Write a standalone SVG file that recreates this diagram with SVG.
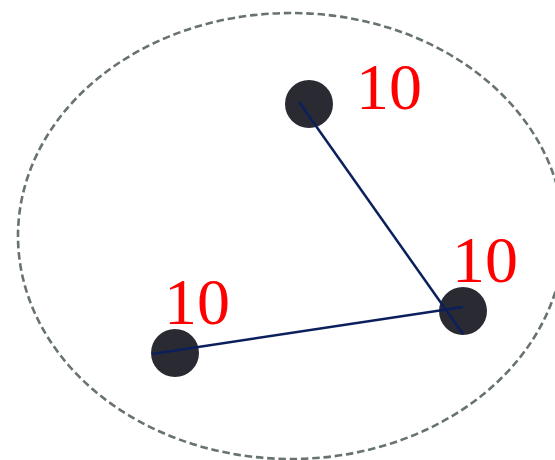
<svg xmlns="http://www.w3.org/2000/svg" width="555" height="460" viewBox="0 0 555 460">
<style>
.node{fill:#2a2a33}
.lbl{font-family:'Liberation Serif','Times New Roman',serif;font-size:66px;fill:#ff0000}
.edge{stroke:#0b1f5c;stroke-width:2.5;fill:none}
.bound{fill:none;stroke:#68736f;stroke-width:2.6;stroke-dasharray:7.5 3.8}
</style>
<rect width="555" height="460" fill="#ffffff"/>
<ellipse id="boundary" class="bound" cx="291" cy="236" rx="273" ry="223"/>
<g id="n1"><circle class="node" cx="309" cy="104" r="24"/><text class="lbl" x="356" y="109">10</text></g>
<g id="n2"><circle class="node" cx="463" cy="311" r="24"/><text class="lbl" x="452" y="282">10</text></g>
<g id="n3"><circle class="node" cx="175" cy="353" r="24"/><text class="lbl" x="164" y="324">10</text></g>
<g id="connectors">
<line class="edge" x1="299" y1="102" x2="463" y2="334"/>
<line class="edge" x1="152" y1="354" x2="463" y2="307"/>
</g>
</svg>
